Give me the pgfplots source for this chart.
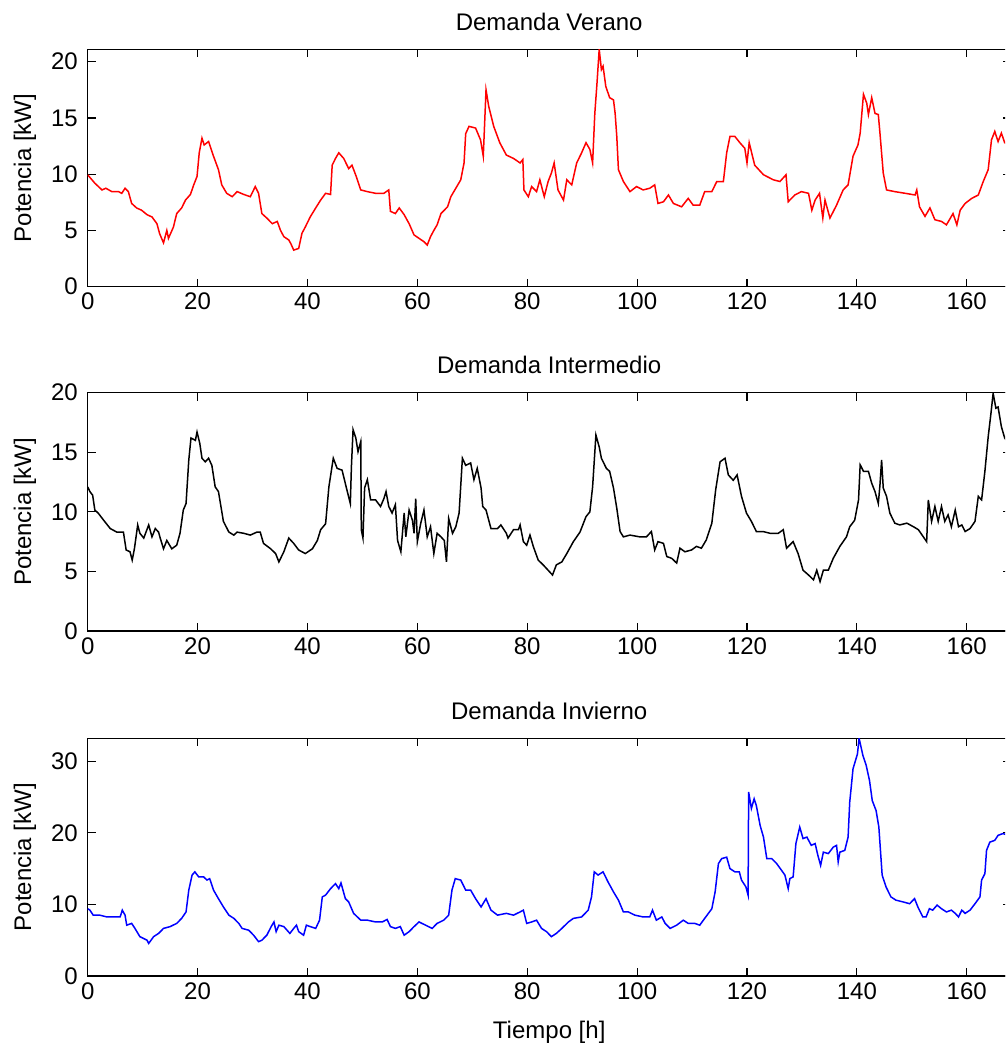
\documentclass[border=0pt]{standalone}
\usepackage{fontspec}
\setmainfont{Liberation Sans}
\usepackage{pgfplots}
\usepackage{pgfplotstable}
\pgfplotsset{compat=1.18}

\pgfplotstableread{
x y
0 9.94
1.3 9.2
2.6 8.6
3.3 8.75
4.4 8.45
5.6 8.45
6.2 8.3
6.8 8.75
7.4 8.45
8.0 7.4
8.9 7.0
9.8 6.8
10.8 6.4
11.7 6.2
12.6 5.6
13.1 4.7
13.8 3.9
14.4 5.0
14.7 4.3
15.6 5.3
16.2 6.5
17.1 7.0
17.8 7.7
18.7 8.2
19.3 9.05
19.9 9.8
20.3 11.9
20.8 13.2
21.2 12.6
22.0 12.9
22.9 11.6
23.8 10.4
24.4 9.05
25.3 8.3
26.3 8.0
27.2 8.45
28.4 8.2
29.6 8.0
30.5 8.9
31.1 8.3
31.7 6.5
32.6 6.1
33.6 5.6
34.5 5.8
35.1 5.0
35.7 4.45
36.6 4.15
37.0 3.8
37.5 3.25
38.4 3.4
39.0 4.75
39.6 5.3
40.5 6.2
41.5 7.0
42.4 7.7
43.3 8.3
44.2 8.2
44.5 10.8
45.1 11.4
45.7 11.9
46.6 11.4
47.5 10.5
48.1 10.8
48.8 9.9
49.7 8.6
50.9 8.45
52.4 8.3
53.9 8.3
54.8 8.6
55.1 6.7
56.0 6.5
56.7 7.0
57.6 6.4
58.5 5.6
59.4 4.6
60.3 4.3
61.2 4.0
61.8 3.7
62.4 4.45
63.0 5.0
63.6 5.5
64.3 6.5
65.5 7.1
66.1 8.0
67.0 8.75
67.9 9.5
68.5 11.0
68.8 13.6
69.4 14.25
70.6 14.1
71.5 13.05
72.0 11.6
72.5 17.5
73.0 16.0
73.9 14.25
75.0 12.8
76.2 11.7
77.5 11.4
78.7 11.0
79.2 11.3
79.4 8.6
80.2 8.0
80.8 8.9
81.7 8.45
82.3 9.5
83.1 8.0
83.8 9.35
84.4 10.1
84.9 11.0
85.6 8.6
86.6 7.7
87.2 9.5
88.1 9.05
89.0 11.0
89.9 11.9
90.7 12.8
91.4 12.2
91.9 11.0
92.3 15.4
92.7 18.1
93.1 21.1
93.5 19.3
93.8 19.6
94.3 17.8
95.0 16.8
95.7 16.6
96.0 15.4
96.3 13.35
96.6 10.4
97.5 9.35
98.7 8.45
99.9 8.9
101.1 8.6
102.3 8.75
103.2 9.05
103.8 7.4
104.8 7.55
105.7 8.15
106.6 7.4
108.1 7.1
109.3 7.85
110.2 7.25
111.4 7.25
112.3 8.45
113.6 8.45
114.5 9.35
115.7 9.35
116.3 11.9
116.9 13.35
117.8 13.35
118.7 12.8
119.6 12.3
120.0 11.0
120.4 12.8
121.4 10.8
123.0 9.95
124.8 9.5
126.0 9.35
127.1 9.95
127.5 7.55
128.7 8.15
129.9 8.45
131.2 8.3
131.8 6.8
132.4 7.7
133.2 8.3
133.8 6.1
134.2 7.7
135.1 6.1
136.3 7.25
137.5 8.6
138.4 9.05
139.3 11.6
140.2 12.6
140.6 13.65
141.2 17.1
141.8 16.3
142.1 15.3
142.7 16.8
143.3 15.4
143.9 15.3
144.2 13.65
144.8 10.1
145.4 8.6
146.9 8.45
148.8 8.3
150.6 8.15
150.9 8.6
151.4 7.1
152.4 6.25
153.3 7.0
154.2 5.95
155.4 5.8
156.3 5.5
157.5 6.5
158.2 5.5
158.8 6.8
159.7 7.4
160.9 7.85
162.1 8.15
163.0 9.35
163.9 10.4
164.5 13.05
165.1 13.8
165.7 12.9
166.3 13.65
166.9 12.8
168.0 12.5
}\verano

\pgfplotstableread{
x y
0 12.1
0.4 11.7
0.9 11.4
1.3 10.15
1.9 9.9
2.9 9.3
4.1 8.6
5.3 8.3
6.5 8.3
7.0 6.8
7.7 6.65
8.1 5.95
8.5 6.9
9.1 8.9
9.5 8.2
10.2 7.8
11.1 8.9
11.7 7.9
12.3 8.6
12.9 8.3
13.2 7.8
13.8 6.9
14.4 7.6
15.3 6.9
16.2 7.2
16.8 8.2
17.4 10.15
17.9 10.7
18.4 14.35
18.8 16.2
19.6 16.0
19.9 16.7
20.4 15.75
20.8 14.5
21.4 14.2
22.0 14.5
22.6 13.9
23.2 12.1
23.8 11.7
24.7 9.2
25.7 8.3
26.6 8.05
27.2 8.3
28.4 8.2
29.6 8.05
30.8 8.3
31.4 8.3
32.0 7.35
33.3 6.9
34.2 6.5
34.8 5.8
35.7 6.65
36.6 7.8
37.5 7.35
38.4 6.8
39.6 6.5
40.9 6.9
41.8 7.6
42.4 8.5
43.3 9.0
43.9 12.1
44.7 14.5
45.4 13.65
46.3 13.5
47.2 11.8
47.8 10.7
48.0 13.8
48.3 16.9
48.8 16.2
49.2 15.05
49.7 15.9
49.8 8.5
50.1 7.8
50.4 12.0
50.9 12.7
51.5 11.0
52.4 11.0
53.3 10.45
53.9 11.1
54.3 11.7
54.8 10.45
55.4 9.9
56.0 10.6
56.4 7.6
57.0 6.65
57.6 9.9
57.9 7.9
58.5 10.15
59.1 9.3
59.4 8.2
59.7 11.1
60.0 7.5
60.6 9.0
61.2 10.15
61.8 7.9
62.4 8.75
63.0 6.5
63.6 8.2
64.3 7.9
64.9 7.6
65.3 5.8
65.7 9.45
66.4 8.2
67.0 8.75
67.6 9.9
68.2 14.5
68.8 13.9
69.7 14.1
70.3 12.7
70.9 13.65
71.6 12.0
71.9 10.45
72.5 10.15
73.4 8.6
74.6 8.6
75.2 8.9
76.2 8.2
76.5 7.8
77.5 8.5
78.4 8.5
78.7 8.9
79.3 7.5
79.9 7.2
80.5 8.05
81.1 7.1
82.0 5.95
82.9 5.55
83.8 5.1
84.6 4.7
85.3 5.55
86.3 5.8
87.2 6.5
88.4 7.5
89.6 8.3
90.7 9.6
91.4 10.0
91.9 12.1
92.5 16.45
93.1 15.45
93.5 14.5
94.4 13.65
95.0 13.4
95.7 12.0
96.3 10.3
96.9 8.35
97.5 7.9
98.7 8.05
100.5 7.9
101.7 7.9
102.6 8.35
103.2 6.8
103.8 7.5
104.8 7.35
105.4 6.25
106.3 6.1
107.2 5.7
107.8 6.95
108.7 6.65
109.9 6.8
110.8 7.1
111.7 6.95
112.6 7.65
113.6 9.05
114.3 11.85
115.1 14.2
116.0 14.5
116.6 13.1
117.5 12.65
118.2 13.1
119.0 11.3
119.9 9.9
120.8 9.2
121.7 8.35
122.9 8.35
124.2 8.2
125.7 8.2
126.6 8.5
127.2 6.95
128.4 7.5
129.3 6.5
130.2 5.1
131.2 4.7
132.1 4.3
132.7 5.1
133.3 4.15
133.9 5.1
134.8 5.1
135.7 6.1
136.9 7.1
138.1 7.9
138.7 8.75
139.6 9.3
140.3 11.0
140.6 13.95
141.2 13.4
142.1 13.4
142.7 12.4
143.3 11.7
143.9 10.7
144.2 12.25
144.5 14.35
144.8 12.0
145.4 11.3
146.0 9.9
146.9 9.05
147.8 8.9
149.1 9.05
150.3 8.75
151.2 8.5
152.1 7.9
152.7 7.5
153.0 11.0
153.6 9.2
154.2 10.45
154.8 9.2
155.4 10.45
156.0 9.2
156.6 9.75
157.2 8.75
157.9 10.15
158.5 8.75
159.1 8.9
159.7 8.35
160.6 8.6
161.5 9.2
162.1 11.3
162.7 11.0
163.3 13.4
163.9 16.3
164.4 18.25
164.8 19.95
165.3 18.7
165.7 18.8
166.3 17.15
166.9 16.2
168.0 15.5
}\intermedio

\pgfplotstableread{
x y
0 9.4
0.4 9.2
1.0 8.5
2.2 8.5
3.5 8.25
4.7 8.25
5.9 8.25
6.3 9.2
6.8 8.5
7.1 7.1
8.0 7.35
8.6 6.65
9.5 5.5
10.8 5.0
11.1 4.55
12.0 5.5
12.9 5.95
13.8 6.65
15.0 6.9
16.2 7.35
17.1 8.05
17.9 8.95
18.4 12.0
19.0 14.1
19.5 14.55
20.2 13.85
21.1 13.85
21.7 13.4
22.2 13.6
22.9 12.0
23.8 10.8
24.7 9.65
25.7 8.5
26.6 8.05
27.5 7.35
28.1 6.65
29.3 6.4
30.2 5.7
31.1 4.8
31.7 5.0
32.6 5.7
33.4 6.9
33.9 7.55
34.3 6.2
34.8 7.1
35.7 6.9
36.8 5.95
37.5 6.65
38.0 7.1
38.4 6.2
39.3 5.7
39.8 7.1
40.5 6.9
41.5 6.65
42.2 7.8
42.7 11.05
43.3 11.3
44.2 12.2
45.1 12.9
45.7 12.2
46.1 13.0
46.9 10.8
47.5 10.35
48.4 8.75
49.7 7.8
50.9 7.8
52.4 7.55
53.6 7.55
54.5 7.9
55.1 6.9
56.0 6.65
56.9 6.9
57.6 5.7
58.5 6.2
59.4 6.9
60.3 7.55
61.5 7.1
62.7 6.65
63.6 7.35
64.8 7.8
65.7 8.5
66.3 12.0
66.9 13.6
67.9 13.4
68.8 12.0
69.7 12.0
70.6 10.8
71.6 9.65
72.5 10.8
73.4 9.2
74.6 8.5
75.2 8.6
76.2 8.75
77.5 8.5
78.7 8.95
79.3 9.2
79.9 7.35
80.8 7.55
81.7 7.8
82.6 6.65
83.5 6.2
84.4 5.5
85.3 5.95
86.3 6.65
87.5 7.55
88.4 8.05
89.9 8.25
91.1 9.2
91.7 11.05
92.2 14.55
92.9 14.1
93.8 14.55
94.7 13.15
95.7 11.75
96.6 10.6
97.5 8.95
98.4 8.95
99.6 8.5
101.1 8.25
102.3 8.25
102.8 9.2
103.5 7.8
104.5 8.25
105.1 7.35
106.0 6.65
107.2 7.1
108.4 7.8
109.3 7.35
110.5 7.35
111.4 7.1
112.3 8.05
113.6 9.4
114.2 11.75
114.8 15.7
115.4 16.4
116.3 16.6
116.9 15.0
117.8 14.55
118.6 14.55
119.0 13.4
119.8 12.45
120.2 11.3
120.3 25.7
120.8 23.4
121.3 24.75
121.7 23.8
122.4 21.0
123.0 19.4
123.6 16.4
124.5 16.4
125.4 15.7
126.3 14.75
126.9 14.1
127.5 12.2
127.8 13.6
128.4 13.85
128.9 18.5
129.6 20.8
130.2 19.2
130.9 19.4
131.7 18.25
132.4 18.5
132.9 16.85
133.4 15.45
133.9 17.3
134.8 17.1
135.7 18.0
136.3 18.25
136.6 15.95
136.9 17.3
137.8 17.55
138.4 19.4
138.7 24.3
139.3 28.95
140.1 31.0
140.4 33.2
141.1 30.8
141.7 29.4
142.3 27.3
142.8 24.5
143.5 23.1
144.0 20.8
144.6 14.1
145.3 12.45
146.2 11.05
147.1 10.6
148.4 10.35
149.6 10.1
150.5 10.8
151.1 9.65
152.0 8.25
152.6 8.25
153.2 9.4
153.8 9.2
154.6 9.9
155.4 9.4
156.3 8.95
157.2 9.2
157.9 8.75
158.5 8.25
159.1 9.2
159.7 8.75
160.6 9.2
161.5 10.1
162.4 11.05
162.7 13.4
163.3 14.3
163.6 17.55
164.2 18.7
165.1 18.95
165.7 19.65
166.6 19.9
168.0 19.5
}\invierno

\pgfplotsset{
  mstyle/.style={
    scale only axis,
    width=461.5pt,
    anchor=south west,
    xmin=0, xmax=168,
    xtick={0,20,...,160},
    tick align=inside,
    major tick length=4pt,
    axis line style={line width=0.6pt},
    every tick/.style={line width=0.6pt, black},
    /pgf/number format/assume math mode=true,
    tick label style={font=\fontsize{12}{14}\selectfont},
    xticklabel style={inner sep=0pt, anchor=north, yshift=-3pt},
    yticklabel style={inner sep=0pt, anchor=east, xshift=-4.8pt},
    every axis title/.style={font=\fontsize{12}{14}\selectfont, at={(0.5,1)}, anchor=base, yshift=9.5pt, inner sep=0pt},
    every axis y label/.style={font=\fontsize{12}{14}\selectfont, at={(-0.0679,0.5)}, anchor=center, rotate=90},
    every axis x label/.style={font=\fontsize{12}{14}\selectfont, at={(0.5,0)}, anchor=base, yshift=-31pt, inner sep=0pt},
    ylabel={Potencia [kW]},
  }
}

\begin{document}
\begin{tikzpicture}
\begin{scope}
\clip (0,0) rectangle (502.5pt,-523.5pt);
\begin{axis}[mstyle, at={(43.85pt,-143.35pt)}, height=118.7pt,
  ymin=0, ymax=21.1, ytick={0,5,...,20}, title={Demanda Verano}]
\addplot[color={rgb,255:red,255;green,0;blue,0}, line width=0.75pt] table[x=x,y=y] {\verano};
\end{axis}
\begin{axis}[mstyle, at={(43.85pt,-315.5pt)}, height=119.15pt,
  ymin=0, ymax=20, ytick={0,5,...,20}, title={Demanda Intermedio}]
\addplot[black, line width=0.75pt] table[x=x,y=y] {\intermedio};
\end{axis}
\begin{axis}[mstyle, at={(43.85pt,-488pt)}, height=118.85pt,
  ymin=0, ymax=33.2, ytick={0,10,20,30}, title={Demanda Invierno}, xlabel={Tiempo [h]}]
\addplot[color={rgb,255:red,0;green,0;blue,255}, line width=0.75pt] table[x=x,y=y] {\invierno};
\end{axis}
\end{scope}
\pgfresetboundingbox
\useasboundingbox (0,0) rectangle (502.5pt,-523.5pt);
\end{tikzpicture}
\end{document}
